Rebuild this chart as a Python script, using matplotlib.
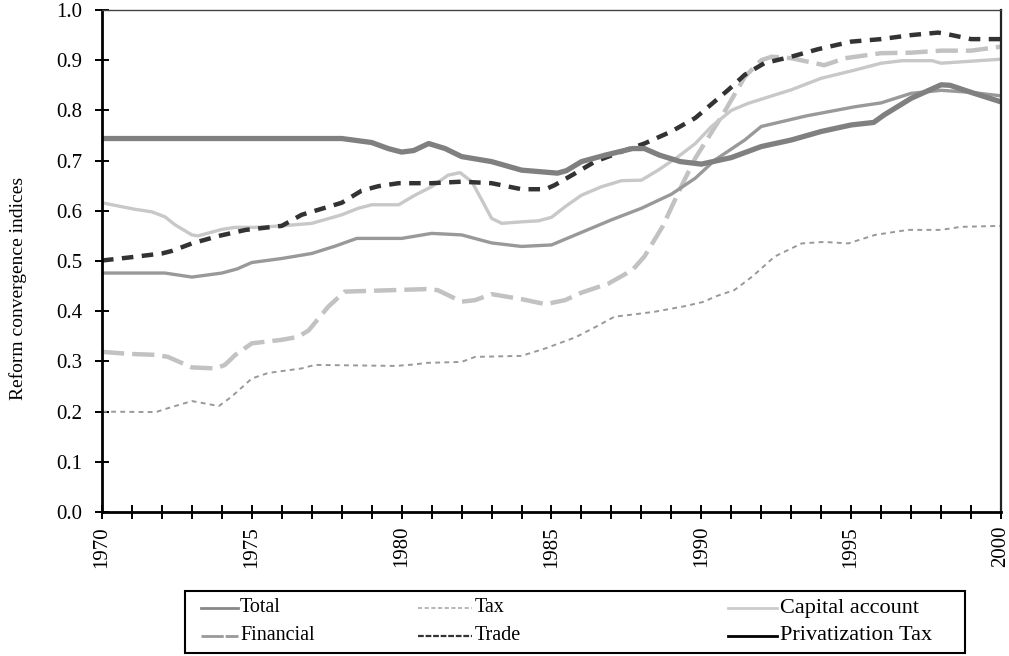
import matplotlib
matplotlib.use("Agg")
import matplotlib.pyplot as plt
from matplotlib.lines import Line2D
from matplotlib.patches import Rectangle

plt.rcParams['font.family'] = ['Liberation Serif', 'DejaVu Serif']

# ---- data ----
priv_years = [1970, 1978, 1979, 1979.55, 1980, 1980.4, 1980.9, 1981.45, 1982, 1983, 1984, 1985.2,
              1985.5, 1986, 1986.8, 1987.7, 1988.1, 1988.6, 1989.3, 1990, 1991, 1992, 1993, 1994,
              1995, 1995.75, 1996.1, 1997, 1998, 1998.3, 1999, 2000]
priv_vals = [0.744, 0.744, 0.736, 0.724, 0.717, 0.720, 0.734, 0.724, 0.708, 0.698, 0.681, 0.675,
             0.680, 0.698, 0.711, 0.724, 0.724, 0.711, 0.698, 0.693, 0.706, 0.728, 0.741, 0.758,
             0.771, 0.776, 0.791, 0.824, 0.851, 0.850, 0.836, 0.817]

total_years = [1970, 1972.1, 1973, 1974, 1974.5, 1975, 1976, 1977, 1977.8, 1978.5, 1980, 1981,
               1982, 1983, 1984, 1985, 1986, 1987, 1988, 1989, 1989.8, 1990.45, 1991.45, 1992,
               1993.5, 1995.1, 1996, 1997, 1998, 1999, 2000]
total_vals = [0.476, 0.476, 0.468, 0.476, 0.484, 0.497, 0.505, 0.515, 0.530, 0.545, 0.545, 0.555,
              0.552, 0.536, 0.529, 0.532, 0.557, 0.582, 0.605, 0.633, 0.665, 0.701, 0.741, 0.768,
              0.789, 0.807, 0.815, 0.834, 0.840, 0.836, 0.829]

cap_years = [1970, 1971.1, 1971.66, 1972.1, 1972.44, 1973, 1973.2, 1974, 1974.44, 1975.1, 1976,
             1977, 1978, 1978.55, 1979, 1979.9, 1980.44, 1981, 1981.55, 1981.95, 1982.34, 1982.67,
             1983, 1983.34, 1984, 1984.56, 1985, 1985.45, 1986, 1986.67, 1987.34, 1988, 1988.56,
             1989.23, 1989.8, 1990.34, 1991, 1991.56, 1993, 1994, 1995.1, 1996, 1996.7, 1997.7,
             1998, 2000]
cap_vals = [0.616, 0.603, 0.598, 0.588, 0.572, 0.552, 0.550, 0.563, 0.567, 0.567, 0.570,
            0.575, 0.592, 0.605, 0.612, 0.612, 0.631, 0.648, 0.671, 0.676, 0.658, 0.622,
            0.585, 0.575, 0.578, 0.580, 0.587, 0.608, 0.631, 0.648, 0.660, 0.661, 0.681,
            0.708, 0.734, 0.768, 0.800, 0.814, 0.841, 0.864, 0.880, 0.894, 0.899, 0.899,
            0.894, 0.902]

fin_years = [1970, 1970.9, 1971.8, 1972.2, 1973, 1973.8, 1974.1, 1974.45, 1975, 1976, 1976.55,
             1976.9, 1977.55, 1978.1, 1980.8, 1981.2, 1982, 1982.45, 1983, 1984, 1984.8, 1985.45,
             1986, 1986.9, 1987.7, 1988.1, 1988.7, 1989.35, 1989.8, 1990.8, 1991.45, 1992,
             1992.35, 1993, 1993.8, 1994.1, 1994.8, 1996, 1997, 1998, 1999, 2000]
fin_vals = [0.319, 0.315, 0.313, 0.309, 0.288, 0.286, 0.293, 0.313, 0.336, 0.343, 0.349,
            0.362, 0.409, 0.439, 0.444, 0.442, 0.419, 0.422, 0.434, 0.424, 0.414, 0.422,
            0.437, 0.455, 0.482, 0.509, 0.568, 0.651, 0.705, 0.800, 0.867, 0.900,
            0.907, 0.904, 0.894, 0.890, 0.904, 0.914, 0.915, 0.919, 0.919, 0.927]

trade_years = [1970, 1970.9, 1972, 1972.33, 1973, 1973.9, 1974.8, 1976, 1976.66, 1978, 1978.66,
               1979.22, 1979.9, 1981, 1982, 1983, 1984, 1984.8, 1985.1, 1985.8, 1986.45, 1987.34,
               1988.1, 1989, 1989.8, 1990.9, 1991.45, 1992.1, 1993, 1993.9, 1995, 1996, 1997,
               1997.9, 1998.2, 1999, 2000]
trade_vals = [0.501, 0.507, 0.515, 0.520, 0.535, 0.550, 0.562, 0.570, 0.592, 0.616, 0.640,
              0.649, 0.655, 0.655, 0.658, 0.655, 0.643, 0.643, 0.651, 0.675, 0.698, 0.718,
              0.734, 0.758, 0.785, 0.841, 0.871, 0.894, 0.907, 0.922, 0.937, 0.942, 0.950,
              0.955, 0.952, 0.942, 0.942]

tax_years = [1970, 1971.8, 1972.1, 1973, 1973.9, 1974.33, 1975, 1975.55, 1976.66, 1977.1, 1979.8,
             1980.45, 1980.8, 1982, 1982.45, 1984, 1984.8, 1985.8, 1986.45, 1987.1, 1987.8,
             1988.45, 1989.45, 1990.1, 1990.45, 1991.1, 1991.7, 1992.45, 1993.35, 1994.1,
             1994.9, 1995.8, 1996.9, 1998, 1998.66, 2000]
tax_vals = [0.200, 0.199, 0.205, 0.221, 0.211, 0.230, 0.266, 0.277, 0.286, 0.293, 0.291,
            0.294, 0.297, 0.299, 0.309, 0.311, 0.326, 0.348, 0.368, 0.389, 0.394,
            0.399, 0.410, 0.419, 0.429, 0.442, 0.469, 0.509, 0.535, 0.538,
            0.535, 0.552, 0.562, 0.562, 0.568, 0.570]

legend_labels = ["Total", "Tax", "Capital account", "Financial", "Trade", "Privatization Tax"]
ylabel_text = "Reform convergence indices"

# ---- figure ----
W, H = 1009, 656
fig = plt.figure(figsize=(W / 100, H / 100), dpi=100)
ax = fig.add_axes([102/W, 144/H, 899/W, 502/H])

ax.plot(tax_years, tax_vals, color='#999999', lw=1.4, dashes=(2.5, 2.2))
ax.plot(fin_years, fin_vals, color='#c2c2c2', lw=3.2, dashes=(5, 1.8))
ax.plot(cap_years, cap_vals, color='#c8c8c8', lw=2.4)
ax.plot(total_years, total_vals, color='#999999', lw=2.4)
ax.plot(trade_years, trade_vals, color='#333333', lw=3.2, dashes=(2.6, 1.9))
ax.plot(priv_years, priv_vals, color='#808080', lw=3.8)

ax.set_xlim(1970, 2000)
ax.set_ylim(0, 1.0)
ax.set_yticks([i / 10 for i in range(11)])
ax.set_yticklabels([f"{i/10:.1f}" for i in range(11)], fontsize=15)
years = list(range(1970, 2001))
ax.set_xticks(years)
ax.set_xticklabels([str(y) if y % 5 == 0 else "" for y in years], rotation=90, fontsize=15)
ax.tick_params(axis='both', direction='inout', length=10, width=1.4, color='black')
ax.tick_params(axis='y', pad=9)
ax.tick_params(axis='x', pad=5)

for s in ['left', 'bottom']:
    ax.spines[s].set_linewidth(2.0)
    ax.spines[s].set_color('black')
ax.spines['top'].set_linewidth(1.0)
ax.spines['top'].set_color('#444444')
ax.spines['right'].set_linewidth(1.6)
ax.spines['right'].set_color('#222222')

fig.text(18/W, 1 - 288/H, ylabel_text, rotation=90, ha='center', va='center', fontsize=14)

# ---- legend (drawn in figure pixel layout, 2 rows x 3 columns) ----
fig.patches.append(Rectangle((185/W, 1 - 653/H), (965 - 185)/W, (653 - 591)/H,
                             transform=fig.transFigure, fill=False,
                             edgecolor='black', linewidth=1.5))
handle_styles = [
    dict(color='#888888', lw=2.0),
    dict(color='#aaaaaa', lw=1.2, dashes=(2.5, 1.5)),
    dict(color='#cccccc', lw=2.0),
    dict(color='#999999', lw=2.0, dashes=(8, 0.7)),
    dict(color='#333333', lw=1.6, dashes=(2.6, 0.8)),
    dict(color='black', lw=2.0),
]
col_handle = [(201, 238), (418, 472), (728, 777)]
col_text = [240, 475, 780]
col_font = [14.5, 14.5, 16]
row_y = [608, 636]
for i, (lab, st) in enumerate(zip(legend_labels, handle_styles)):
    r, c = divmod(i, 3)
    yy = 1 - row_y[r] / H
    x0, x1 = col_handle[c]
    fig.add_artist(Line2D([x0 / W, x1 / W], [yy, yy], transform=fig.transFigure, **st))
    fig.text(col_text[c] / W, yy, lab, ha='left', va='center', fontsize=col_font[c])

fig.savefig("out.png", dpi=100)
